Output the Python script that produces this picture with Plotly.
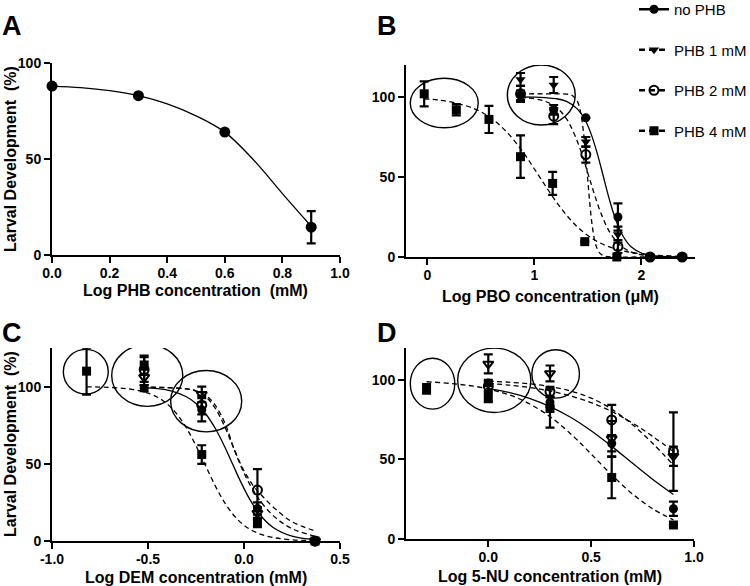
import plotly.graph_objects as go

# ---------------- data ----------------
# Panel A
A_X = [0.0, 0.3, 0.6, 0.9]
A_Y = [88, 83, 64, 14.5]
A_ERR = [None, None, None, 8.4]
A_CURVE_X = [0.0, 0.1, 0.2, 0.3, 0.4, 0.5, 0.6, 0.7, 0.8, 0.9]
A_CURVE_Y = [88, 87.2, 85.6, 83, 78.7, 72.5, 64, 49.5, 32, 15]

# Panel B (log PBO, uM)
B_X = [0.87, 1.18, 1.48, 1.78, 2.08, 2.38]
B_NOPHB_Y = [101, 92, 87, 25, 0, 0]
B_NOPHB_ERR = [3, 3, None, 8.5, None, None]
B_1MM_Y = [111, 107.5, 72, 14, 0, 0]
B_1MM_ERR = [4, 5, 3, 5, None, None]
B_2MM_Y = [102, 88, 64, 6.5, 0, 0]
B_2MM_ERR = [5, 5, 5, 4, None, None]
B_4MM_X = [-0.03, 0.27, 0.575, 0.87, 1.17, 1.47, 1.77]
B_4MM_Y = [102, 92, 86, 62.7, 46, 9.6, 0]
B_4MM_ERR = [7.8, 3.5, 8.5, 13.3, 7.2, None, None]

B_NOPHB_CX = [0.87, 1.0, 1.1, 1.2, 1.3, 1.4, 1.47, 1.53, 1.59, 1.645, 1.7, 1.76, 1.83, 1.9, 2.0, 2.1, 2.2, 2.38]
B_NOPHB_CY = [100, 99.9, 99.6, 99.0, 97.3, 92.6, 86.1, 76.8, 64, 50, 36, 23.2, 12.8, 6.6, 2.5, 0.9, 0.3, 0.05]
B_1MM_CX = [0.87, 1.1, 1.3, 1.35, 1.4, 1.43, 1.46, 1.48, 1.5, 1.52, 1.54, 1.56, 1.58, 1.61, 1.65, 1.75, 2.0, 2.38]
B_1MM_CY = [102, 102, 101.8, 101.1, 97.4, 90.8, 77, 63.1, 46.9, 31.5, 19.4, 11.2, 6.2, 2.4, 0.7, 0.03, 0, 0]
B_2MM_CX = [0.87, 1.0, 1.1, 1.2, 1.3, 1.4, 1.46, 1.51, 1.56, 1.62, 1.7, 1.8, 1.9, 2.0, 2.15, 2.38]
B_2MM_CY = [99.6, 98.9, 97.3, 93.8, 86.3, 72.4, 60.8, 50, 39.2, 27.6, 15.9, 7.4, 3.2, 1.4, 0.4, 0.05]
B_4MM_CX = [-0.03, 0.1, 0.26, 0.43, 0.58, 0.73, 0.88, 1.0, 1.12, 1.25, 1.4, 1.55, 1.7, 1.85, 2.05, 2.38]
B_4MM_CY = [98.9, 98.1, 96.3, 92.9, 87.5, 78.9, 66.8, 55, 42.7, 30.3, 18.9, 11.1, 6.3, 3.5, 1.55, 0.4]

# Panel C (log DEM, mM)
C_X = [-0.52, -0.22, 0.07, 0.37]
C_NOPHB_Y = [99, 85, 21, 0]
C_NOPHB_ERR = [2, 7.5, 4, None]
C_1MM_Y = [106, 95, 18, 0]
C_1MM_ERR = [5, 5, 4, None]
C_2MM_Y = [111, 88, 33, 0]
C_2MM_ERR = [8, 6, 13.5, None]
C_4MM_X = [-0.82, -0.52, -0.22, 0.07, 0.37]
C_4MM_Y = [110, 114, 56, 12, 0]
C_4MM_ERR = [15.2, 6, 6, 3, None]

C_NOPHB_CX = [-0.53, -0.45, -0.38, -0.3, -0.25, -0.2, -0.15, -0.1, -0.06, -0.02, 0.03, 0.08, 0.15, 0.25, 0.37]
C_NOPHB_CY = [99.4, 98.7, 97.2, 93.4, 89.1, 82.4, 73, 60.9, 50, 39.1, 27, 17.5, 8.9, 3.1, 0.85]
C_12_CX = [-0.53, -0.4, -0.3, -0.25, -0.2, -0.15, -0.1, -0.05, 0.0, 0.05, 0.1, 0.17, 0.25, 0.37]
C_1MM_CY = [99.7, 99.4, 98.5, 97.3, 94.5, 88, 76.5, 59, 44, 32.5, 23.5, 14.5, 8, 3]
C_2MM_CY = [99.6, 99.3, 98.5, 97, 93.5, 86, 74, 59, 45.5, 35.5, 28.5, 20, 12.5, 6.5]
C_4MM_CX = [-0.82, -0.7, -0.6, -0.52, -0.45, -0.4, -0.35, -0.3, -0.25, -0.2, -0.15, -0.1, -0.05, 0.0, 0.07, 0.15, 0.25, 0.37]
C_4MM_CY = [99.85, 99.5, 98.5, 96.6, 93.1, 88.7, 82.3, 73.2, 61.7, 48.7, 35.8, 24.7, 16.2, 10.2, 5.2, 2.3, 0.8, 0.2]

# Panel D (log 5-NU, mM)
D_X = [0.0, 0.3, 0.6, 0.9]
D_NOPHB_Y = [98, 86, 60, 19]
D_NOPHB_ERR = [2, 3, 5, 4.5]
D_1MM_Y = [110, 104, 63, 52]
D_1MM_ERR = [6, 5, 11, 6]
D_2MM_Y = [96, 92.6, 74.8, 54.9]
D_2MM_ERR = [3, 3, 9.5, 24.7]
D_4MM_X = [-0.3, 0.0, 0.3, 0.6, 0.9]
D_4MM_Y = [94.3, 89, 82, 38.6, 8.8]
D_4MM_ERR = [3, 3, 12, 13, None]

D_CX = [0.0, 0.1, 0.2, 0.3, 0.4, 0.5, 0.6, 0.7, 0.8, 0.9]
D_NOPHB_CY = [94.7, 92.1, 88.4, 83.2, 76.5, 68, 58.2, 47.7, 37.4, 28]
D_1MM_CY = [99.2, 98.5, 97.5, 95.8, 93, 88.5, 81.6, 72, 60, 46.5]
D_2MM_CY = [97.8, 96.7, 95.2, 93, 89.9, 85.7, 80.1, 72.9, 64.4, 54.9]
D_4MM_CX = [-0.3, -0.15, 0.0, 0.15, 0.3, 0.42, 0.5, 0.6, 0.7, 0.8, 0.9]
D_4MM_CY = [98.8, 97.3, 94.3, 88.1, 76.9, 63.7, 53.4, 40.3, 28.4, 18.9, 12]

# Highlight ellipses (x0, x1, y0, y1) in data units
B_ELLIPSES = [(-0.16, 0.475, 80.8, 111.7), (0.747, 1.381, 82.5, 120)]
C_ELLIPSES = [(-0.941, -0.707, 95.2, 124.1), (-0.689, -0.319, 87.2, 127.2), (-0.382, -0.012, 70.7, 110.4)]
D_ELLIPSES = [(-0.379, -0.163, 81.6, 113.6), (-0.149, 0.207, 79.5, 119.9), (0.212, 0.443, 88.5, 118.9)]

# Tick labels
A_XTICKS = [0.0, 0.2, 0.4, 0.6, 0.8, 1.0]
A_XTICKTEXT = ["0.0", "0.2", "0.4", "0.6", "0.8", "1.0"]
B_XTICKS = [0, 1, 2]
B_XTICKTEXT = ["0", "1", "2"]
C_XTICKS = [-1.0, -0.5, 0.0, 0.5]
C_XTICKTEXT = ["-1.0", "-0.5", "0.0", "0.5"]
D_XTICKS = [0.0, 0.5, 1.0]
D_XTICKTEXT = ["0.0", "0.5", "1.0"]
Y_TICKS = [0, 50, 100]
Y_TICKTEXT = ["0", "50", "100"]

SERIES_NAMES = ["no PHB", "PHB 1 mM", "PHB 2 mM", "PHB 4 mM"]

# ---------------- figure ----------------
FONT = "Liberation Sans, Arial, Helvetica, sans-serif"
DASH = "5px,3.5px"
fig = go.Figure()


def err(arr):
    return dict(type="data", array=arr, visible=True, thickness=2.2, width=4.5, color="black")


def pts(x, y, e, symbol, ax, size=9):
    open_ = symbol.endswith("open")
    fig.add_trace(go.Scatter(
        x=x, y=y, mode="markers", showlegend=False, cliponaxis=False,
        xaxis="x" + ax, yaxis="y" + ax,
        marker=dict(symbol=symbol, size=size, color="black",
                    line=dict(width=2 if open_ else 0, color="black")),
        error_y=err(e)))


def curve(x, y, ax, dashed):
    fig.add_trace(go.Scatter(
        x=x, y=y, mode="lines", showlegend=False, xaxis="x" + ax, yaxis="y" + ax,
        line=dict(color="black", width=1.3, shape="spline", dash=DASH if dashed else "solid")))


# A
curve(A_CURVE_X, A_CURVE_Y, "", False)
pts(A_X, A_Y, A_ERR, "circle", "", size=11)

# B
curve(B_4MM_CX, B_4MM_CY, "2", True)
curve(B_2MM_CX, B_2MM_CY, "2", True)
curve(B_1MM_CX, B_1MM_CY, "2", True)
curve(B_NOPHB_CX, B_NOPHB_CY, "2", False)
pts(B_4MM_X, B_4MM_Y, B_4MM_ERR, "square", "2")
pts(B_X, B_2MM_Y, B_2MM_ERR, "circle-open", "2")
pts(B_X, B_1MM_Y, B_1MM_ERR, "triangle-down", "2")
pts(B_X, B_NOPHB_Y, B_NOPHB_ERR, "circle", "2")

# C
curve(C_4MM_CX, C_4MM_CY, "3", True)
curve(C_12_CX, C_2MM_CY, "3", True)
curve(C_12_CX, C_1MM_CY, "3", True)
curve(C_NOPHB_CX, C_NOPHB_CY, "3", False)
pts(C_4MM_X, C_4MM_Y, C_4MM_ERR, "square", "3")
pts(C_X, C_2MM_Y, C_2MM_ERR, "circle-open", "3")
pts(C_X, C_1MM_Y, C_1MM_ERR, "triangle-down-open", "3")
pts(C_X, C_NOPHB_Y, C_NOPHB_ERR, "circle", "3")

# D
curve(D_4MM_CX, D_4MM_CY, "4", True)
curve(D_CX, D_2MM_CY, "4", True)
curve(D_CX, D_1MM_CY, "4", True)
curve(D_CX, D_NOPHB_CY, "4", False)
pts(D_4MM_X, D_4MM_Y, D_4MM_ERR, "square", "4")
pts(D_X, D_2MM_Y, D_2MM_ERR, "circle-open", "4")
pts(D_X, D_1MM_Y, D_1MM_ERR, "triangle-down-open", "4")
pts(D_X, D_NOPHB_Y, D_NOPHB_ERR, "circle", "4")

# legend entries
LEG_SYMBOLS = ["circle", "triangle-down", "circle-open", "square"]
LEG_DASH = ["solid", "6px,4px", "6px,4px", "6px,4px"]
for i, name in enumerate(SERIES_NAMES):
    fig.add_trace(go.Scatter(
        x=[None], y=[None], mode="lines+markers", name=name, legendgroup=name,
        xaxis="x2", yaxis="y2",
        marker=dict(symbol=LEG_SYMBOLS[i], size=9, color="black",
                    line=dict(width=2 if "open" in LEG_SYMBOLS[i] else 0, color="black")),
        line=dict(color="black", width=2.5, dash=LEG_DASH[i])))

# shapes (ellipses)
shapes = []
for ax, ells in (("2", B_ELLIPSES), ("3", C_ELLIPSES), ("4", D_ELLIPSES)):
    for (x0, x1, y0, y1) in ells:
        shapes.append(dict(type="circle", xref="x" + ax, yref="y" + ax,
                           x0=x0, x1=x1, y0=y0, y1=y1,
                           line=dict(color="black", width=1.4)))


def xax(domain, rng, tv, tt, anchor):
    return dict(domain=domain, range=rng, anchor=anchor, showline=True, linecolor="black",
                linewidth=2, ticks="outside", ticklen=6, tickwidth=2, tickcolor="black",
                showgrid=False, zeroline=False, tickvals=tv, ticktext=tt, automargin=False,
                ticklabelstandoff=-2,
                tickfont=dict(family=FONT, size=14, color="black", weight="bold"))


def yax(domain, rng, anchor):
    return dict(domain=domain, range=rng, anchor=anchor, showline=True, linecolor="black",
                linewidth=2, ticks="outside", ticklen=6, tickwidth=2, tickcolor="black",
                showgrid=False, zeroline=False, tickvals=Y_TICKS, ticktext=Y_TICKTEXT,
                automargin=False,
                tickfont=dict(family=FONT, size=14, color="black", weight="bold"))


W, H = 750, 586


def px(xp):
    return xp / W


def py(yp):
    return 1 - yp / H


annotations = []
for letter, xp, yp in (("A", 0, 26), ("B", 375, 26), ("C", 0, 333), ("D", 375, 333)):
    annotations.append(dict(text=letter, x=px(xp), y=py(yp), xref="paper", yref="paper",
                            xanchor="left", yanchor="middle", showarrow=False,
                            font=dict(family=FONT, size=27, color="black", weight="bold")))
XTITLES = [("Log PHB concentration\u00a0 (mM)", 196, 290),
           ("Log PBO concentration (\u03bcM)", 550, 296),
           ("Log DEM concentration (mM)", 196, 577),
           ("Log 5-NU concentration (mM)", 550, 576)]
for t, xp, yp in XTITLES:
    annotations.append(dict(text=t, x=px(xp), y=py(yp), xref="paper", yref="paper",
                            xanchor="center", yanchor="middle", showarrow=False,
                            font=dict(family=FONT, size=16, color="black", weight="bold")))
for yc in (159, 444):
    annotations.append(dict(text="Larval Development\u00a0 (%)", x=px(11), y=py(yc),
                            xref="paper", yref="paper", textangle=-90,
                            xanchor="center", yanchor="middle", showarrow=False,
                            font=dict(family=FONT, size=16, color="black", weight="bold")))

fig.update_layout(
    width=W, height=H, margin=dict(l=0, r=0, t=0, b=0, autoexpand=False),
    paper_bgcolor="white", plot_bgcolor="white",
    font=dict(family=FONT, color="black"),
    xaxis=xax([px(52), px(340)], [0, 1.0], A_XTICKS, A_XTICKTEXT, "y"),
    yaxis=yax([py(255), py(63)], [0, 100], "x"),
    xaxis2=xax([px(406), px(695)], [-0.2, 2.5], B_XTICKS, B_XTICKTEXT, "y2"),
    yaxis2=yax([py(257), py(65)], [0, 120], "x2"),
    xaxis3=xax([px(52), px(340)], [-1.0, 0.5], C_XTICKS, C_XTICKTEXT, "y3"),
    yaxis3=yax([py(541), py(348)], [0, 125], "x3"),
    xaxis4=xax([px(406), px(694)], [-0.4, 1.0], D_XTICKS, D_XTICKTEXT, "y4"),
    yaxis4=yax([py(539), py(348)], [0, 120], "x4"),
    shapes=shapes, annotations=annotations,
    showlegend=True,
    legend=dict(x=px(634), y=1.0 + 7 / H, xanchor="left", yanchor="top",
                bgcolor="rgba(0,0,0,0)",
                font=dict(family=FONT, size=15, color="black"), tracegroupgap=18,
                traceorder="grouped", itemwidth=30),
)

fig.write_html(
    "out.html",
    config={"displayModeBar": False},
    post_script="document.body.style.margin='0';document.body.style.overflow='hidden';",
)
